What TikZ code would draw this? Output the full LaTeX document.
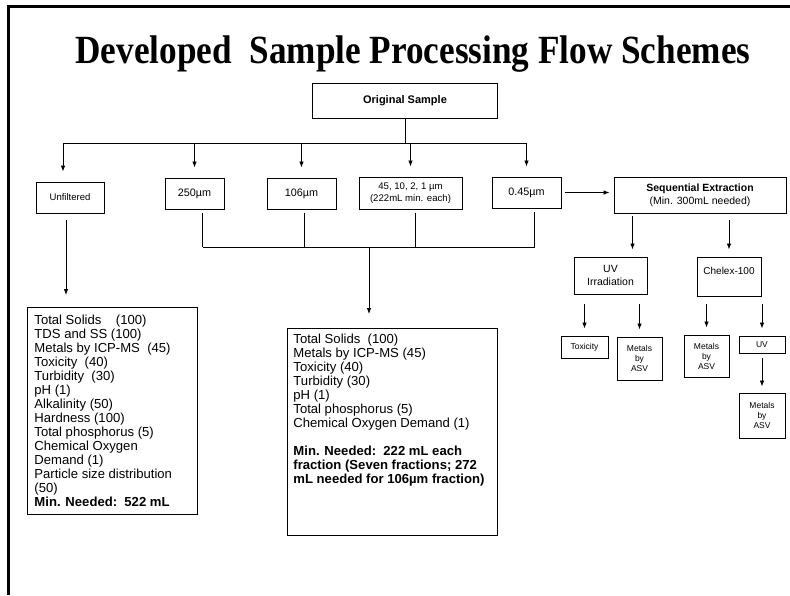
\documentclass[tikz,border=0pt]{standalone}
\usepackage{fontspec}
\setmainfont{Liberation Sans}
\newfontfamily\titlefont{Liberation Serif}
\usetikzlibrary{arrows.meta}

\begin{document}
\begin{tikzpicture}[x=1pt,y=-1pt,
		box/.style={draw,line width=0.9pt,inner sep=0pt,align=center},
		lst/.style={draw,line width=0.9pt,anchor=north west,inner xsep=7pt,inner ysep=6pt,font=\fontsize{13.1}{14}\selectfont},
		arr/.style={-{Latex[length=6pt,width=4.5pt]},line width=0.8pt},
		ln/.style={line width=0.8pt}]
	\useasboundingbox (0,0) rectangle (790,595);
	\draw[line width=3pt] (8,595) -- (8,6) -- (790,6);
	\node[anchor=base] (title) at (413,63) {\titlefont\bfseries\fontsize{40}{44}\selectfont\scalebox{0.88}[1]{Developed\ \ Sample Processing Flow Schemes}};
	\node[box,minimum width=185,minimum height=35,font=\bfseries\fontsize{11}{13}\selectfont] (orig) at (405,100.5) {Original Sample};
		% filter fractions
	\node[box,minimum width=68,minimum height=31,font=\fontsize{9.5}{11}\selectfont] (unf) at (70,197.5) {Unfiltered};
	\node[box,minimum width=59,minimum height=31,font=\fontsize{10.8}{12}\selectfont] (f250) at (194.5,193.5) {250µm};
	\node[box,minimum width=69,minimum height=31,font=\fontsize{10.8}{12}\selectfont] (f106) at (301.5,193.5) {106µm};
	\node[box,minimum width=103,minimum height=32,font=\fontsize{9.6}{12.5}\selectfont] (f45) at (410.5,193) {45, 10, 2, 1 µm\\(222mL min. each)};
	\node[box,minimum width=69,minimum height=31,font=\fontsize{10.8}{12}\selectfont] (f045) at (526.5,192.5) {0.45µm};
	\coordinate (bus) at (405,143);
	\coordinate (col) at (369,247);
	\draw[ln] (orig.south) -- (bus);
	\draw[ln] ([xshift=-7pt]unf.north |- bus) -- (f045.north |- bus);
	\foreach \b/\dx in {unf/-7,f250/0,f106/0,f45/0,f045/0}
		\draw[arr,shorten >=10pt] ([xshift=\dx pt]\b.north |- bus) -- ([xshift=\dx pt]\b.north);
	\foreach \b/\dx in {f250/8,f106/3,f45/5,f045/8}
		\draw[ln,shorten <=4pt] ([xshift=\dx pt]\b.south) -- ([xshift=\dx pt]\b.south |- col);
	\draw[ln] ([xshift=8pt]f250.south |- col) -- ([xshift=8pt]f045.south |- col);
		% parameter lists
	\node[lst,inner ysep=8pt] (lft) at (27,307) {\parbox[t][191pt][t]{156pt}{\raggedright
		Total Solids\ \ \ \ (100)\\
		TDS and SS (100)\\
		Metals by ICP-MS\ \ (45)\\
		Toxicity\ \ (40)\\
		Turbidity\ \ (30)\\
		pH (1)\\
		Alkalinity (50)\\
		Hardness (100)\\
		Total phosphorus (5)\\
		Chemical Oxygen\\
		Demand (1)\\
		Particle size distribution\\
		(50)\\
		\textbf{Min. Needed:\ \ 522 mL}}};
	\node[lst,inner xsep=6pt] (mid) at (287,328) {\parbox[t][195pt][t]{198pt}{\raggedright
		Total Solids\ \ (100)\\
		Metals by ICP-MS (45)\\
		Toxicity (40)\\
		Turbidity (30)\\
		pH (1)\\
		Total phosphorus (5)\\
		Chemical Oxygen Demand (1)\\[14pt]
		\textbf{Min. Needed:\ \ 222 mL each\\
		fraction (Seven fractions; 272\\
		mL needed for 106µm fraction)}}};
	\draw[arr,shorten <=7pt,shorten >=12pt] ([xshift=-4pt]unf.south) -- ([xshift=-4pt]unf.south |- lft.north);
	\draw[arr,shorten >=14pt] (col) -- (mid.north -| col);
		% sequential extraction branch
	\node[box,minimum width=172,minimum height=36,font=\fontsize{10.5}{13}\selectfont] (seq) at (700,195) {\textbf{Sequential Extraction}\\(Min. 300mL needed)};
	\node[box,minimum width=73,minimum height=37,font=\fontsize{10.5}{12.5}\selectfont] (uvi) at (610.5,275.5) {UV\\Irradiation};
	\node[box,minimum width=64,minimum height=39,font=\fontsize{10}{12}\selectfont] (chx) at (729,276.5) {Chelex-100\\ \mbox{}};
	\node[box,minimum width=47,minimum height=22,font=\fontsize{8.5}{10}\selectfont] (tox) at (584.5,347) {Toxicity};
	\node[box,minimum width=45,minimum height=43,font=\fontsize{8.5}{10}\selectfont] (asva) at (639.5,358.5) {Metals\\by\\ASV};
	\node[box,minimum width=45,minimum height=42,font=\fontsize{8.5}{10}\selectfont] (asvb) at (706.5,356) {Metals\\by\\ASV};
	\node[box,minimum width=46,minimum height=17,font=\fontsize{8.5}{10}\selectfont] (uvs) at (762,344.5) {UV};
	\node[box,minimum width=46,minimum height=45,font=\fontsize{8.5}{10}\selectfont] (asvc) at (762,415.5) {Metals\\by\\ASV};
	\draw[arr,shorten <=4pt,shorten >=4pt] (f045.east) -- (f045.east -| seq.west);
	\draw[arr,shorten <=3pt,shorten >=7pt] ([xshift=22pt]uvi.north |- seq.south) -- ([xshift=22pt]uvi.north);
	\draw[arr,shorten <=7pt,shorten >=7pt] (chx.north |- seq.south) -- (chx.north);
	\draw[arr,shorten <=10pt,shorten >=7pt] (tox.north |- uvi.south) -- (tox.north);
	\draw[arr,shorten <=10pt,shorten >=7pt] (asva.north |- uvi.south) -- (asva.north);
	\draw[arr,shorten <=8pt,shorten >=7pt] (asvb.north |- chx.south) -- (asvb.north);
	\draw[arr,shorten <=8pt,shorten >=7pt] (uvs.north |- chx.south) -- (uvs.north);
	\draw[arr,shorten <=5pt,shorten >=6pt] (uvs) -- (asvc);
\end{tikzpicture}
\end{document}
